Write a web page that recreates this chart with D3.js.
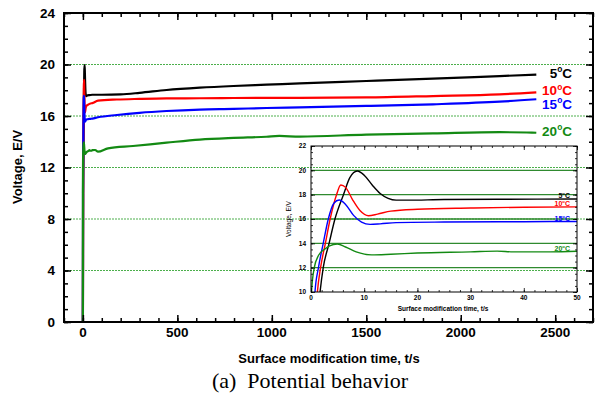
<!DOCTYPE html>
<html>
<head>
<meta charset="utf-8">
<script src="https://cdn.jsdelivr.net/npm/d3@7"></script>
<style>
  body { margin: 0; background: #fff; }
  svg text { font-family: Arial, "Liberation Sans", sans-serif; }
</style>
</head>
<body>
<svg id="chart" width="598" height="394"></svg>
<script>
// temperatures / colours
var seriesNames = ['5', '10', '15', '20'];
var seriesColors = ['#000000', '#ff0000', '#0000ff', '#138a13'];

// first 50 s (inset), [t, V]
var early5 = [[0,0],[1.7,10],[2.3,12],[3.4,14],[4.5,16],[6.1,18],[7.3,19.4],[8.7,19.95],[10,19.6],[11.5,18.8],[13,18.1],[14.5,17.7],[16,17.55],[18,17.55],[25,17.6],[35,17.62],[50,17.65]];
var early10 = [[0,0],[1.2,10],[1.8,12],[2.7,14],[3.6,16],[4.8,18],[5.6,18.8],[6.5,18.6],[7.8,17.6],[9.2,16.7],[10.8,16.27],[12.5,16.4],[15,16.65],[20,16.8],[30,16.9],[40,16.97],[50,17.0]];
var early15 = [[0,0],[0.75,10],[1.4,12],[2.3,14],[3.25,16],[4.3,17.3],[5.3,17.56],[6.5,17.2],[8,16.3],[9.5,15.75],[11.1,15.56],[13,15.6],[16,15.7],[25,15.75],[40,15.78],[50,15.8]];
var early20 = [[0,0],[0.1,10],[0.62,12],[1.4,13],[2.5,13.5],[3.5,13.8],[4.95,13.95],[6.5,13.7],[8.5,13.3],[11.4,13.05],[15,13.1],[20,13.2],[30,13.3],[35,13.36],[38,13.3],[45,13.3],[50,13.35]];

// rest of the run, [t, V]
var late5 = [[100,17.65],[200,17.68],[300,17.8],[443,18.02],[619,18.2],[797,18.33],[972,18.43],[1148,18.54],[1500,18.72],[1853,18.9],[2206,19.1],[2400,19.21]];
var late10 = [[80,17.19],[180,17.28],[300,17.33],[443,17.37],[619,17.38],[797,17.4],[1148,17.41],[1500,17.44],[1853,17.55],[2206,17.68],[2400,17.84]];
var late15 = [[80,15.9],[180,16.08],[300,16.25],[443,16.39],[619,16.5],[797,16.55],[972,16.62],[1148,16.67],[1500,16.78],[1853,16.91],[2206,17.11],[2400,17.3]];
var late20 = [[65,13.36],[80,13.23],[133,13.49],[265,13.67],[443,13.93],[619,14.17],[797,14.3],[972,14.39],[1040,14.45],[1148,14.4],[1500,14.56],[1853,14.65],[2206,14.74],[2350,14.72],[2400,14.7]];

var xTicks = [0, 500, 1000, 1500, 2000, 2500];
var yTicks = [0, 4, 8, 12, 16, 20, 24];
var gridValues = [4, 8, 12, 16, 20];
var insetXTicks = [0, 10, 20, 30, 40, 50];
var insetYTicks = [10, 12, 14, 16, 18, 20, 22];
var insetGrid = [12, 14, 16, 18, 20];
var labelAt = [19.34, 18.0, 16.93, 14.83];        // label centres, main plot
var insetLabelAt = [17.97, 17.31, 16.08, 13.6];    // label centres, inset

var early = [early5, early10, early15, early20];
var late = [late5, late10, late15, late20];

var svg = d3.select('#chart');

var x = d3.scaleLinear().domain([-100, 2700]).range([64, 593]);
var y = d3.scaleLinear().domain([0, 24]).range([322, 13]);

// dotted grid
svg.selectAll('.grid').data(gridValues).enter().append('line')
    .attr('x1', x.range()[0]).attr('x2', x.range()[1])
    .attr('y1', function (d) { return y(d); }).attr('y2', function (d) { return y(d); })
    .attr('stroke', '#4caf4c').attr('stroke-width', 1).attr('stroke-dasharray', '2,1');

function innerAxes(g, xs, ys, xMajor, xMinor, yMajor, yMinor, big, small) {
    var x0 = xs.range()[0], x1 = xs.range()[1], y0 = ys.range()[0], y1 = ys.range()[1];
    g.append('g').attr('transform', 'translate(0,' + y0 + ')')
        .call(d3.axisBottom(xs).tickValues(xMinor).tickSize(-small).tickFormat(''));
    g.append('g').attr('transform', 'translate(0,' + y0 + ')')
        .call(d3.axisBottom(xs).tickValues(xMajor).tickSize(-big).tickFormat(''));
    g.append('g').attr('transform', 'translate(0,' + y1 + ')')
        .call(d3.axisTop(xs).tickValues(xMinor).tickSize(-small).tickFormat(''));
    g.append('g').attr('transform', 'translate(0,' + y1 + ')')
        .call(d3.axisTop(xs).tickValues(xMajor).tickSize(-big).tickFormat(''));
    g.append('g').attr('transform', 'translate(' + x0 + ',0)')
        .call(d3.axisLeft(ys).tickValues(yMinor).tickSize(-small).tickFormat(''));
    g.append('g').attr('transform', 'translate(' + x0 + ',0)')
        .call(d3.axisLeft(ys).tickValues(yMajor).tickSize(-big).tickFormat(''));
    g.append('g').attr('transform', 'translate(' + x1 + ',0)')
        .call(d3.axisRight(ys).tickValues(yMinor).tickSize(-small).tickFormat(''));
    g.append('g').attr('transform', 'translate(' + x1 + ',0)')
        .call(d3.axisRight(ys).tickValues(yMajor).tickSize(-big).tickFormat(''));
    g.selectAll('.domain').remove();
}

// main lines
var line = d3.line()
    .curve(d3.curveMonotoneX)
    .x(function (d) { return x(d[0]); })
    .y(function (d) { return y(d[1]); });

seriesNames.forEach(function (n, i) {
    svg.append('path')
        .datum(early[i].concat(late[i]))
        .attr('d', line)
        .attr('fill', 'none')
        .attr('stroke', seriesColors[i])
        .attr('stroke-width', 2.2);
});

// main axes
var axesG = svg.append('g');
innerAxes(axesG, x, y, xTicks, d3.range(-100, 2701, 100), yTicks, d3.range(0, 25, 1), 7, 4);
axesG.selectAll('line').attr('stroke', '#000').attr('stroke-width', 1.5);
svg.append('rect')
    .attr('x', x.range()[0]).attr('y', y.range()[1])
    .attr('width', x.range()[1] - x.range()[0]).attr('height', y.range()[0] - y.range()[1])
    .attr('fill', 'none').attr('stroke', '#000').attr('stroke-width', 2);

svg.selectAll('.xl').data(xTicks).enter().append('text')
    .attr('x', function (d) { return x(d); }).attr('y', 337)
    .attr('text-anchor', 'middle').attr('font-size', 13.5).attr('font-weight', 'bold')
    .text(function (d) { return d; });
svg.selectAll('.yl').data(yTicks).enter().append('text')
    .attr('x', 55).attr('y', function (d) { return y(d) + 4.5; })
    .attr('text-anchor', 'end').attr('font-size', 13.5).attr('font-weight', 'bold')
    .text(function (d) { return d; });

svg.append('text')
    .attr('x', 329).attr('y', 363)
    .attr('text-anchor', 'middle').attr('font-size', 13).attr('font-weight', 'bold')
    .text('Surface modification time, t/s');
svg.append('text')
    .attr('transform', 'translate(22,167) rotate(-90)')
    .attr('text-anchor', 'middle').attr('font-size', 13).attr('font-weight', 'bold')
    .text('Voltage, E/V');
svg.append('text')
    .attr('x', 310).attr('y', 388)
    .attr('text-anchor', 'middle').attr('font-size', 22)
    .style('font-family', '"Liberation Serif", "Times New Roman", serif')
    .text('(a)\u00a0\u00a0Potential behavior');

// series labels on the main plot
function tempLabel(sel, size) {
    sel.append('tspan').text(function (d) { return d; });
    sel.append('tspan').attr('dy', -size * 0.42).attr('font-size', size * 0.62).text('o');
    sel.append('tspan').attr('dy', size * 0.42).text('C');
}
var lab = svg.selectAll('.lab').data(seriesNames).enter().append('text')
    .attr('x', 572).attr('y', function (d, i) { return y(labelAt[i]) + 5; })
    .attr('text-anchor', 'end').attr('font-size', 13.5).attr('font-weight', 'bold')
    .attr('fill', function (d, i) { return seriesColors[i]; });
tempLabel(lab, 13.5);

// ---- inset ----
var ix = d3.scaleLinear().domain([0, 50]).range([311, 577]);
var iy = d3.scaleLinear().domain([10, 22]).range([292, 146]);

var inset = svg.append('g');
inset.append('clipPath').attr('id', 'iclip').append('rect')
    .attr('x', 311).attr('y', 146).attr('width', 266).attr('height', 146);

inset.selectAll('.ig').data(insetGrid).enter().append('line')
    .attr('x1', ix.range()[0]).attr('x2', ix.range()[1])
    .attr('y1', function (d) { return iy(d); }).attr('y2', function (d) { return iy(d); })
    .attr('stroke', '#2f8a2f').attr('stroke-width', 1.3);

var iline = d3.line()
    .curve(d3.curveMonotoneX)
    .x(function (d) { return ix(d[0]); })
    .y(function (d) { return iy(d[1]); });

seriesNames.forEach(function (n, i) {
    inset.append('path')
        .datum(early[i])
        .attr('d', iline)
        .attr('clip-path', 'url(#iclip)')
        .attr('fill', 'none')
        .attr('stroke', seriesColors[i])
        .attr('stroke-width', 1.4);
});

var iaxes = inset.append('g');
innerAxes(iaxes, ix, iy, insetXTicks, d3.range(0, 51, 2), insetYTicks, d3.range(10, 22.01, 0.5), 4, 2);
iaxes.selectAll('line').attr('stroke', '#000').attr('stroke-width', 0.8);
inset.append('rect')
    .attr('x', 311).attr('y', 146).attr('width', 266).attr('height', 146)
    .attr('fill', 'none').attr('stroke', '#000').attr('stroke-width', 1);

inset.selectAll('.ixl').data(insetXTicks).enter().append('text')
    .attr('x', function (d) { return ix(d); }).attr('y', 300)
    .attr('text-anchor', 'middle').attr('font-size', 6.5).attr('font-weight', 'bold')
    .text(function (d) { return d; });
inset.selectAll('.iyl').data(insetYTicks).enter().append('text')
    .attr('x', 306).attr('y', function (d) { return iy(d) + 2.3; })
    .attr('text-anchor', 'end').attr('font-size', 6.5).attr('font-weight', 'bold')
    .text(function (d) { return d; });
inset.append('text')
    .attr('x', 443).attr('y', 311)
    .attr('text-anchor', 'middle').attr('font-size', 6.5).attr('font-weight', 'bold')
    .text('Surface modification time, t/s');
inset.append('text')
    .attr('transform', 'translate(291,219) rotate(-90)')
    .attr('text-anchor', 'middle').attr('font-size', 6.5)
    .text('Voltage, E/V');

var ilab = inset.selectAll('.ilab').data(seriesNames).enter().append('text')
    .attr('x', 570).attr('y', function (d, i) { return iy(insetLabelAt[i]) + 2.5; })
    .attr('text-anchor', 'end').attr('font-size', 7).attr('font-weight', 'bold')
    .attr('fill', function (d, i) { return seriesColors[i]; });
tempLabel(ilab, 7);
</script>
</body>
</html>
